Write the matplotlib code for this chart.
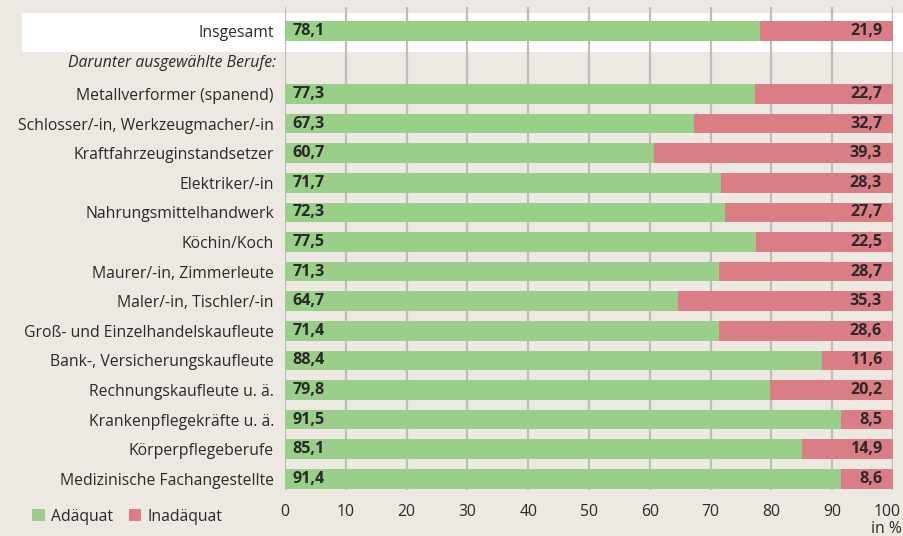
import matplotlib
matplotlib.use("Agg")
import matplotlib.pyplot as plt
import matplotlib.transforms as mtransforms
from matplotlib.patches import Rectangle, Patch

plt.rcParams['font.family'] = ['Open Sans', 'DejaVu Sans']

categories = ["Insgesamt", "Metallverformer (spanend)", "Schlosser/-in, Werkzeugmacher/-in",
              "Kraftfahrzeuginstandsetzer", "Elektriker/-in", "Nahrungsmittelhandwerk",
              "Köchin/Koch", "Maurer/-in, Zimmerleute", "Maler/-in, Tischler/-in",
              "Groß- und Einzelhandelskaufleute", "Bank-, Versicherungskaufleute",
              "Rechnungskaufleute u. ä.", "Krankenpflegekräfte u. ä.",
              "Körperpflegeberufe", "Medizinische Fachangestellte"]
adaequat = [78.1, 77.3, 67.3, 60.7, 71.7, 72.3, 77.5, 71.3, 64.7, 71.4, 88.4, 79.8, 91.5, 85.1, 91.4]
inadaequat = [21.9, 22.7, 32.7, 39.3, 28.3, 27.7, 22.5, 28.7, 35.3, 28.6, 11.6, 20.2, 8.5, 14.9, 8.6]
subheading = "Darunter ausgewählte Berufe:"
xticks = [0, 10, 20, 30, 40, 50, 60, 70, 80, 90, 100]
series_names = ["Adäquat", "Inadäquat"]

GREEN = "#99cf88"
RED = "#db7d85"
BG = "#ede8e1"
TXT = "#2a2a2a"
FS = 11.3

W, H = 904, 536
fig = plt.figure(figsize=(W/100, H/100), dpi=100, facecolor=BG)

ax_left, ax_right = 285/W, 893/W
ax_top, ax_bot = 1 - 7/H, 1 - 490/H
ax = fig.add_axes([ax_left, ax_bot, ax_right - ax_left, ax_top - ax_bot])
ax.set_facecolor("none")
ax.set_zorder(2)

# white band behind "Insgesamt"
fig.patches.append(Rectangle((22/W, 1 - 52/H), (W - 22)/W, 39/H, transform=fig.transFigure,
                             facecolor="white", edgecolor="none", zorder=0))

pos = [0.0] + [2.13 + i for i in range(len(categories) - 1)]
h = 0.66
ax.barh(pos, adaequat, height=h, color=GREEN, zorder=3)
ax.barh(pos, inadaequat, left=adaequat, height=h, color=RED, zorder=3)

for p, a, r in zip(pos, adaequat, inadaequat):
    ax.text(1.2, p, f"{a:.1f}".replace(".", ","), ha="left", va="center",
            fontsize=FS + 0.3, fontweight="bold", color=TXT, zorder=4)
    ax.text(98.2, p, f"{r:.1f}".replace(".", ","), ha="right", va="center",
            fontsize=FS + 0.3, fontweight="bold", color=TXT, zorder=4)

ax.set_xlim(0, 100)
ax.set_ylim(15.51, -0.81)
ax.set_yticks(pos)
ax.set_yticklabels(categories, fontsize=FS, color=TXT)
ax.text(-1.5, 1.07, subheading, ha="right", va="center", fontsize=FS,
        style="italic", color=TXT, transform=ax.transData)
ax.set_xticks(xticks)
ax.set_xticklabels([str(t) for t in xticks], fontsize=FS, color=TXT)
ax.tick_params(axis="y", length=0, pad=8)
ax.tick_params(axis="x", length=0, pad=10)
ax.xaxis.grid(True, color="#bdbdbd", linewidth=1.6, zorder=1)
ax.set_axisbelow(True)
for s in ax.spines.values():
    s.set_visible(False)

# keep the last tick label inside the picture
last = ax.get_xticklabels()[-1]
last.set_transform(last.get_transform() + mtransforms.ScaledTranslation(-6/100, 0, fig.dpi_scale_trans))

fig.text(902/W, 1 - 529/H, "in %", ha="right", va="center", fontsize=FS, color=TXT)

handles = [Patch(facecolor=GREEN, edgecolor="none"), Patch(facecolor=RED, edgecolor="none")]
fig.legend(handles, series_names, loc="lower left", bbox_to_anchor=(18/W, -3/H), ncol=2,
           frameon=False, fontsize=FS, handlelength=0.8, handleheight=0.8,
           handletextpad=0.4, columnspacing=1.0, labelcolor=TXT)

fig.savefig("out.png", dpi=100, facecolor=BG)
